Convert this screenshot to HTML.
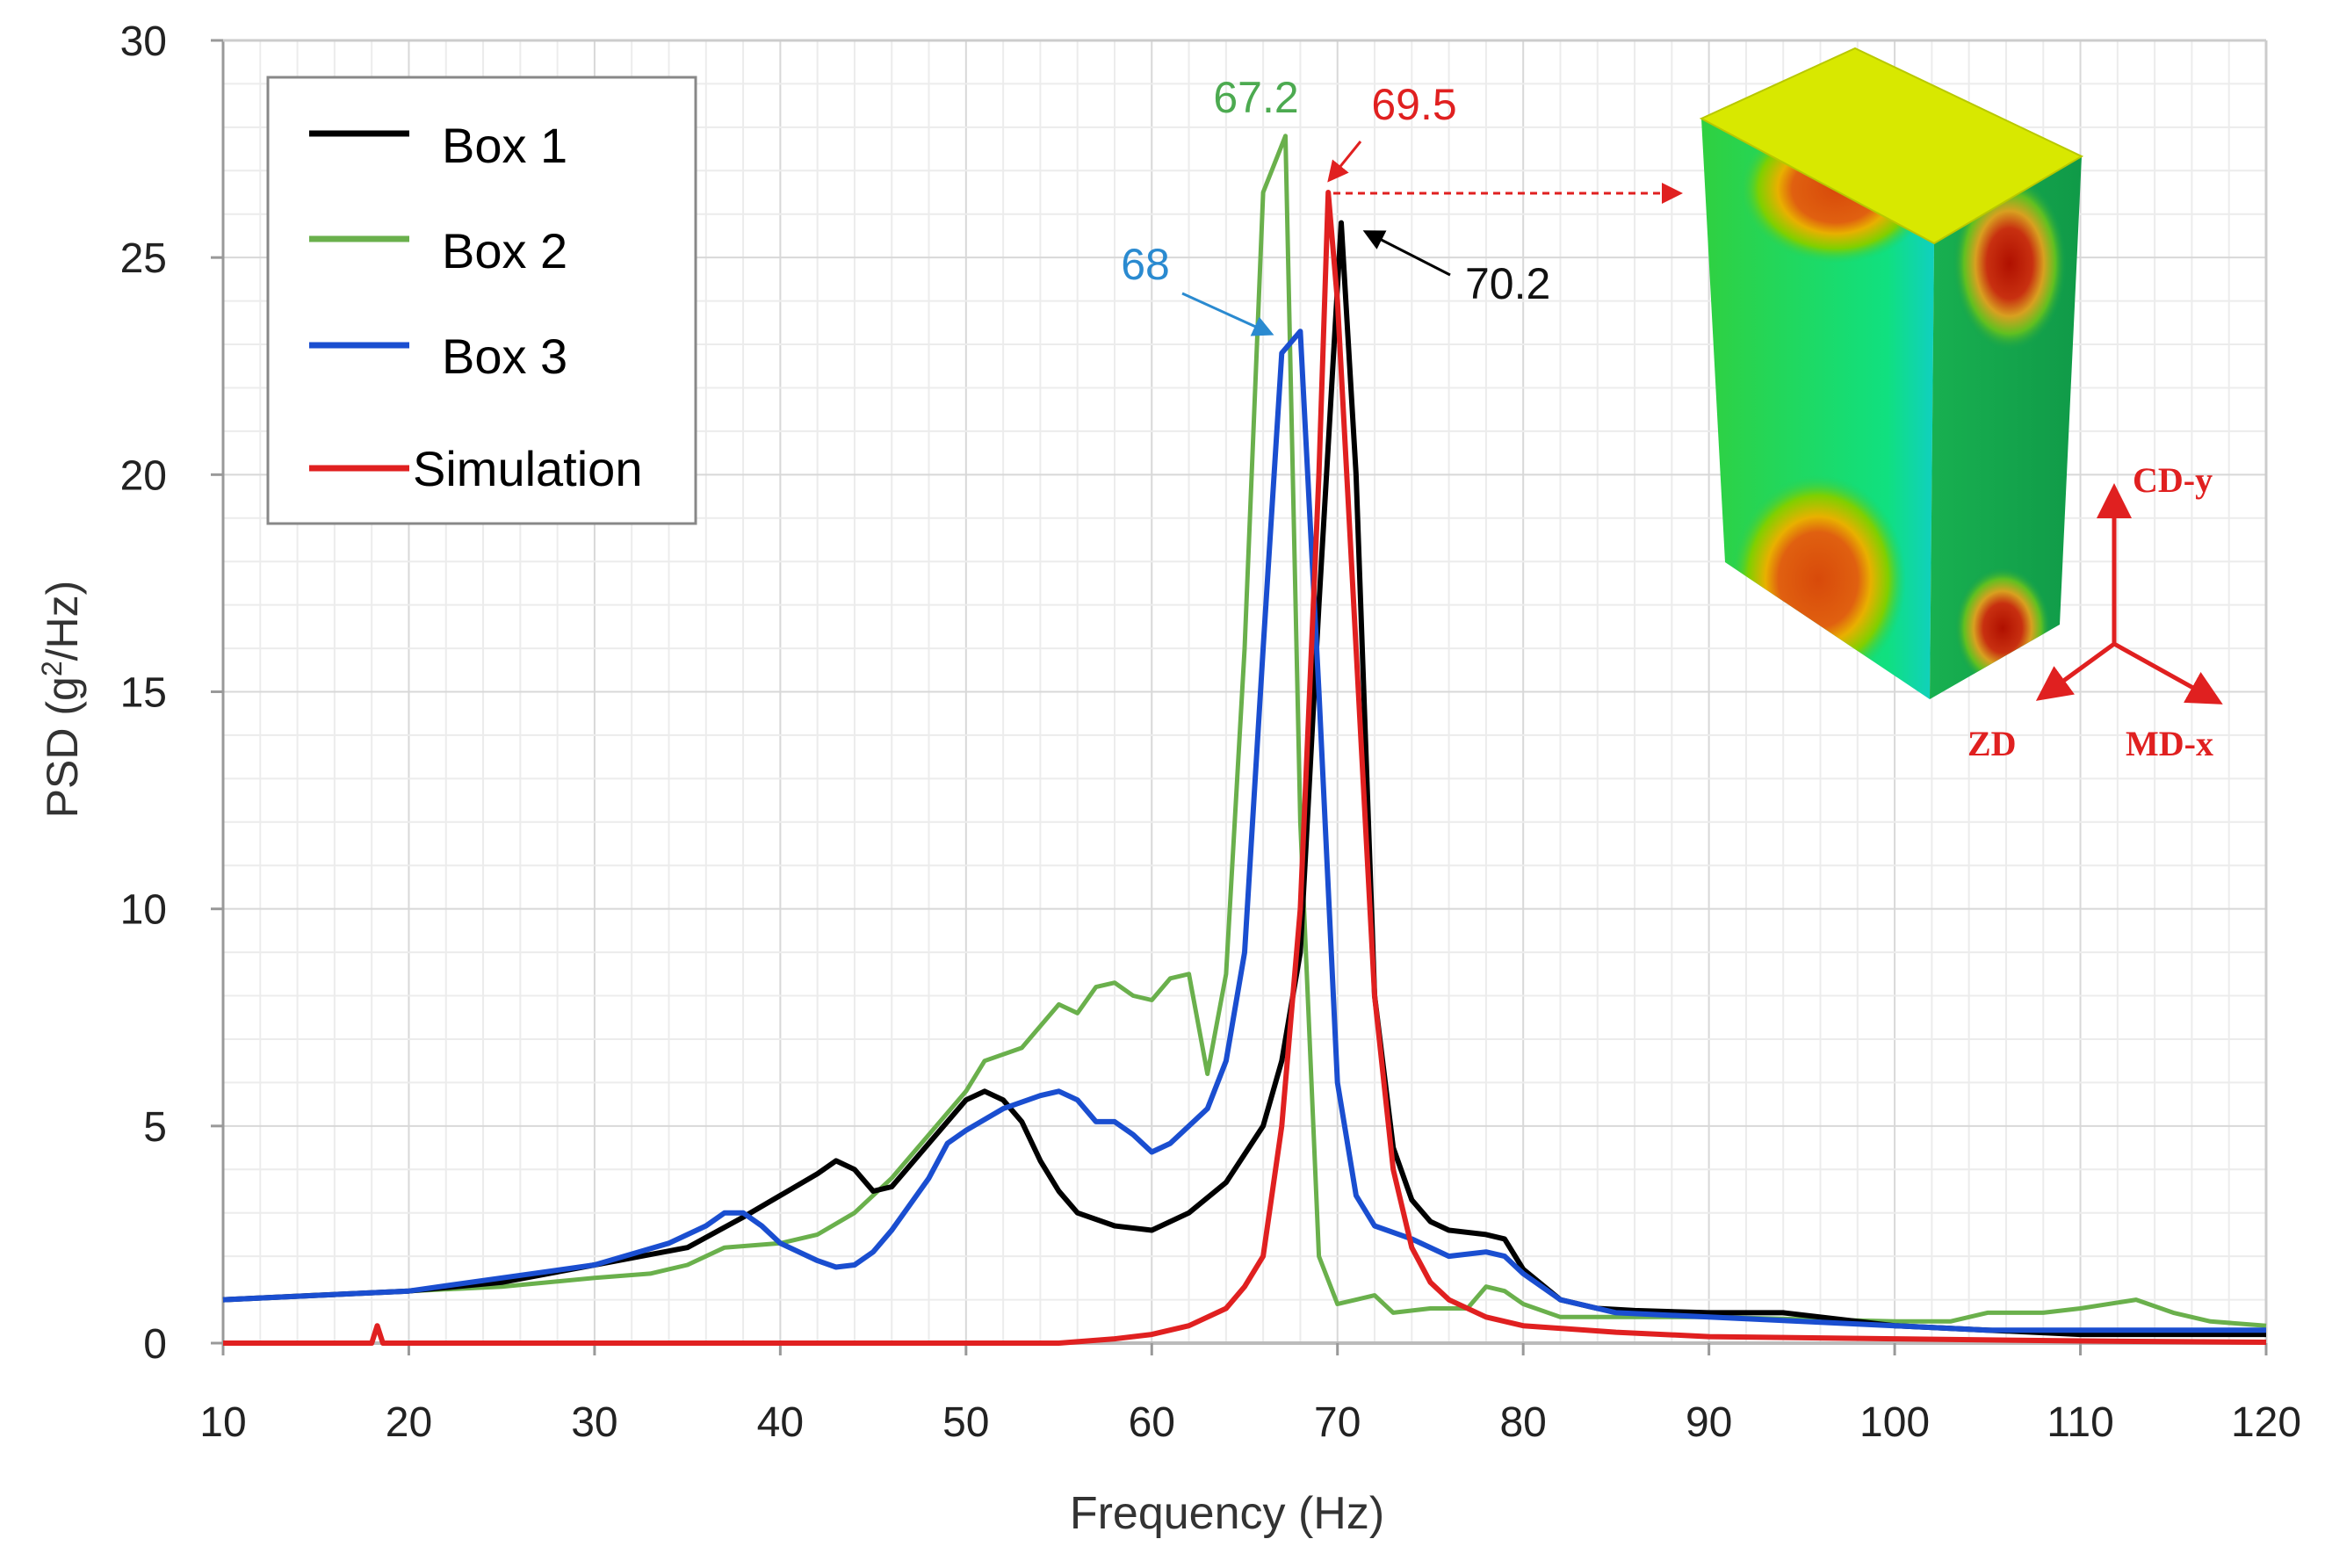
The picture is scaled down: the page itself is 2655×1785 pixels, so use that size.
<!DOCTYPE html>
<html><head><meta charset="utf-8"><style>
body{margin:0;background:#fff;}
svg{display:block;font-family:"Liberation Sans",sans-serif;}
</style></head><body>
<svg id="chart" width="2655" height="1785" viewBox="0 0 2655 1785" xmlns="http://www.w3.org/2000/svg">
<defs>
<radialGradient id="hotA" cx="0.5" cy="0.5" r="0.5"><stop offset="0" stop-color="#d84a0a"/><stop offset="0.45" stop-color="#e06010"/><stop offset="0.6" stop-color="#e8b000"/><stop offset="0.8" stop-color="#7fd000"/><stop offset="1" stop-color="#20d060" stop-opacity="0"/></radialGradient>
<radialGradient id="hotB" cx="0.5" cy="0.5" r="0.5"><stop offset="0" stop-color="#b01000"/><stop offset="0.4" stop-color="#c83010"/><stop offset="0.6" stop-color="#d8a020"/><stop offset="0.8" stop-color="#60c020"/><stop offset="1" stop-color="#10a050" stop-opacity="0"/></radialGradient>
<linearGradient id="frontFace" x1="0" y1="0" x2="1" y2="0"><stop offset="0" stop-color="#30d040"/><stop offset="0.8" stop-color="#10e080"/><stop offset="1" stop-color="#10d0c0"/></linearGradient>
<linearGradient id="sideFace" x1="0" y1="0" x2="1" y2="0"><stop offset="0" stop-color="#18b050"/><stop offset="1" stop-color="#109a48"/></linearGradient>
<marker id="arrRed" markerWidth="8" markerHeight="8" refX="6" refY="4" orient="auto"><path d="M0,0 L8,4 L0,8 z" fill="#e02020"/></marker>
<marker id="arrBlk" markerWidth="8" markerHeight="8" refX="6" refY="4" orient="auto"><path d="M0,0 L8,4 L0,8 z" fill="#000"/></marker>
<marker id="arrBlu" markerWidth="8" markerHeight="8" refX="6" refY="4" orient="auto"><path d="M0,0 L8,4 L0,8 z" fill="#2a8ad0"/></marker>
<clipPath id="frontClip"><polygon points="1937,135 2202,277 2197,796 1964,640"/></clipPath>
<clipPath id="sideClip"><polygon points="2202,277 2370,178 2345,711 2197,796"/></clipPath>
</defs>
<g id="grid"></g>
<g id="axes"></g>
<g id="inset">
  <polygon points="1937,135 2202,277 2197,796 1964,640" fill="url(#frontFace)"/>
  <polygon points="2202,277 2370,178 2345,711 2197,796" fill="url(#sideFace)"/>
  <g clip-path="url(#frontClip)">
    <ellipse cx="2090" cy="215" rx="110" ry="85" fill="url(#hotA)"/>
    <ellipse cx="2070" cy="660" rx="100" ry="120" fill="url(#hotA)"/>
  </g>
  <g clip-path="url(#sideClip)">
    <ellipse cx="2288" cy="300" rx="65" ry="100" fill="url(#hotB)"/>
    <ellipse cx="2280" cy="715" rx="55" ry="70" fill="url(#hotB)"/>
  </g>
  <polygon points="1937,135 2112,55 2370,178 2202,277" fill="#d8e800" stroke="#b8c800" stroke-width="2"/>
  <line x1="2407" y1="733" x2="2407" y2="560" stroke="#e02020" stroke-width="5" marker-end="url(#arrRed)"/>
  <line x1="2407" y1="733" x2="2326" y2="792" stroke="#e02020" stroke-width="5" marker-end="url(#arrRed)"/>
  <line x1="2407" y1="733" x2="2522" y2="797" stroke="#e02020" stroke-width="5" marker-end="url(#arrRed)"/>
  <text x="2428" y="560" font-family="Liberation Serif,serif" font-weight="bold" font-size="40" fill="#e02020">CD-y</text>
  <text x="2240" y="860" font-family="Liberation Serif,serif" font-weight="bold" font-size="40" fill="#e02020">ZD</text>
  <text x="2420" y="860" font-family="Liberation Serif,serif" font-weight="bold" font-size="40" fill="#e02020">MD-x</text>
</g>
<g id="series"></g>
<g id="annot">
  <text x="1430" y="128" font-size="50" fill="#4caa50" text-anchor="middle">67.2</text>
  <text x="1610" y="136" font-size="50" fill="#e02020" text-anchor="middle">69.5</text>
  <line x1="1549" y1="161" x2="1515" y2="203" stroke="#e02020" stroke-width="3" marker-end="url(#arrRed)"/>
  <line x1="1518" y1="220" x2="1910" y2="220" stroke="#e02020" stroke-width="3" stroke-dasharray="8,6" marker-end="url(#arrRed)"/>
  <text x="1304" y="318" font-size="50" fill="#2a8ad0" text-anchor="middle">68</text>
  <line x1="1346" y1="334" x2="1445" y2="379" stroke="#2a8ad0" stroke-width="3" marker-end="url(#arrBlu)"/>
  <text x="1668" y="340" font-size="50" fill="#111">70.2</text>
  <line x1="1651" y1="313" x2="1557" y2="265" stroke="#000" stroke-width="3" marker-end="url(#arrBlk)"/>
</g>
<g id="legend">
  <rect x="305" y="88" width="487" height="508" fill="#fff" stroke="#888" stroke-width="3"/>
  <g><line x1="352" y1="152" x2="466" y2="152" stroke="#000" stroke-width="7"/><text x="503" y="185" font-size="56">Box 1</text></g>
  <g><line x1="352" y1="272" x2="466" y2="272" stroke="#6ab04c" stroke-width="7"/><text x="503" y="305" font-size="56">Box 2</text></g>
  <g><line x1="352" y1="393" x2="466" y2="393" stroke="#1a4ed0" stroke-width="7"/><text x="503" y="425" font-size="56">Box 3</text></g>
  <g><line x1="352" y1="533" x2="466" y2="533" stroke="#e02020" stroke-width="7"/><text x="470" y="553" font-size="56">Simulation</text></g>
</g>
<text x="1397" y="1740" font-size="52" fill="#333" text-anchor="middle">Frequency (Hz)</text>
<text transform="translate(88,796) rotate(-90)" font-size="50" fill="#333" text-anchor="middle">PSD (g<tspan font-size="32" dy="-18">2</tspan><tspan dy="18">/Hz)</tspan></text>
</svg>
<script>
const xTicks=[10,20,30,40,50,60,70,80,90,100,110,120];
const yTicks=[0,5,10,15,20,25,30];
const box1F=[10,15,20,25,30,35,38,40,42,43,44,45,46,48,50,51,52,53,54,55,56,58,60,62,64,66,67,68,69,70.2,71,72,73,74,75,76,78,79,80,82,84,86,90,94,96,100,105,110,115,120];
const box1V=[1.0,1.1,1.2,1.4,1.8,2.2,2.9,3.4,3.9,4.2,4.0,3.5,3.6,4.6,5.6,5.8,5.6,5.1,4.2,3.5,3.0,2.7,2.6,3.0,3.7,5.0,6.5,9,17,25.8,20,8,4.5,3.3,2.8,2.6,2.5,2.4,1.7,1.0,0.8,0.75,0.7,0.7,0.6,0.4,0.3,0.2,0.2,0.2];
const box2F=[10,20,25,30,33,35,37,40,42,44,46,48,50,51,53,55,56,57,58,59,60,61,62,63,64,65,66,67.2,68,69,70,71,72,73,75,77,78,79,80,82,85,90,100,103,105,108,110,113,115,117,120];
const box2V=[1.0,1.2,1.3,1.5,1.6,1.8,2.2,2.3,2.5,3.0,3.8,4.8,5.8,6.5,6.8,7.8,7.6,8.2,8.3,8.0,7.9,8.4,8.5,6.2,8.5,16,26.5,27.8,12,2,0.9,1.0,1.1,0.7,0.8,0.8,1.3,1.2,0.9,0.6,0.6,0.6,0.5,0.5,0.7,0.7,0.8,1.0,0.7,0.5,0.4];
const box3F=[10,20,25,30,34,36,37,38,39,40,42,43,44,45,46,48,49,50,52,54,55,56,57,58,59,60,61,63,64,65,66,67,68,69,70,71,72,74,76,78,79,80,82,85,90,95,100,105,110,120];
const box3V=[1.0,1.2,1.5,1.8,2.3,2.7,3.0,3.0,2.7,2.3,1.9,1.75,1.8,2.1,2.6,3.8,4.6,4.9,5.4,5.7,5.8,5.6,5.1,5.1,4.8,4.4,4.6,5.4,6.5,9,16,22.8,23.3,15,6,3.4,2.7,2.4,2.0,2.1,2.0,1.6,1.0,0.7,0.6,0.5,0.4,0.3,0.3,0.3];
const simF=[10,18,18.3,18.6,55,58,60,62,64,65,66,67,68,69,69.5,70,71,72,73,74,75,76,78,80,85,90,100,110,120];
const simV=[0,0,0.4,0,0,0.1,0.2,0.4,0.8,1.3,2.0,5,10,20,26.5,24,16,8,4,2.2,1.4,1.0,0.6,0.4,0.25,0.15,0.1,0.05,0.02];

const NS='http://www.w3.org/2000/svg';
const X0=254,X1=2580,Y0=1529,Y1=46;
function sx(f){return X0+(f-10)*(X1-X0)/110;}
function sy(v){return Y0-v*(Y0-Y1)/30;}
function mk(tag,attrs,parent){const e=document.createElementNS(NS,tag);for(const k in attrs)e.setAttribute(k,attrs[k]);parent.appendChild(e);return e;}
const grid=document.getElementById('grid'),axes=document.getElementById('axes'),series=document.getElementById('series');
for(let f=10;f<=120;f+=2){const l=mk('line',{x1:sx(f),x2:sx(f),y1:sy(30),y2:sy(0),stroke:f%10===0?'#d8d8d8':'#ececec','stroke-width':2},grid);

}
for(let v=0;v<=30;v+=1){const l=mk('line',{x1:X0,x2:X1,y1:sy(v),y2:sy(v),stroke:v%5===0?'#d8d8d8':'#ececec','stroke-width':2},grid);

}
mk('line',{x1:X0,x2:X0,y1:Y1,y2:Y0,stroke:'#999','stroke-width':3},axes);
mk('line',{x1:X0,x2:X1,y1:Y0,y2:Y0,stroke:'#bbb','stroke-width':4},axes);
mk('line',{x1:X0,x2:X1,y1:Y1,y2:Y1,stroke:'#ccc','stroke-width':3},axes);
mk('line',{x1:X1,x2:X1,y1:Y1,y2:Y0,stroke:'#ccc','stroke-width':3},axes);
xTicks.forEach(f=>{mk('line',{x1:sx(f),x2:sx(f),y1:Y0,y2:Y0+14,stroke:'#999','stroke-width':3},axes);
const t=mk('text',{x:sx(f),y:1635,'font-size':48,fill:'#222','text-anchor':'middle'},axes);t.textContent=f;

});
yTicks.forEach(v=>{mk('line',{x1:X0-14,x2:X0,y1:sy(v),y2:sy(v),stroke:'#999','stroke-width':3},axes);
const t=mk('text',{x:190,y:sy(v)+17,'font-size':48,fill:'#222','text-anchor':'end'},axes);t.textContent=v;

});
function draw(F,V,color,w,name){const d=F.map((f,i)=>(i?'L':'M')+sx(f).toFixed(1)+','+sy(V[i]).toFixed(1)).join(' ');
const p=mk('path',{d:d,fill:'none',stroke:color,'stroke-width':w,'stroke-linejoin':'round'},series);

}
draw(box2F,box2V,'#6ab04c',5,'box2-line');
draw(box1F,box1V,'#000',6,'box1-line');
draw(box3F,box3V,'#1a4ed0',6,'box3-line');
draw(simF,simV,'#e02020',6,'simulation-line');
</script>
</body></html>
